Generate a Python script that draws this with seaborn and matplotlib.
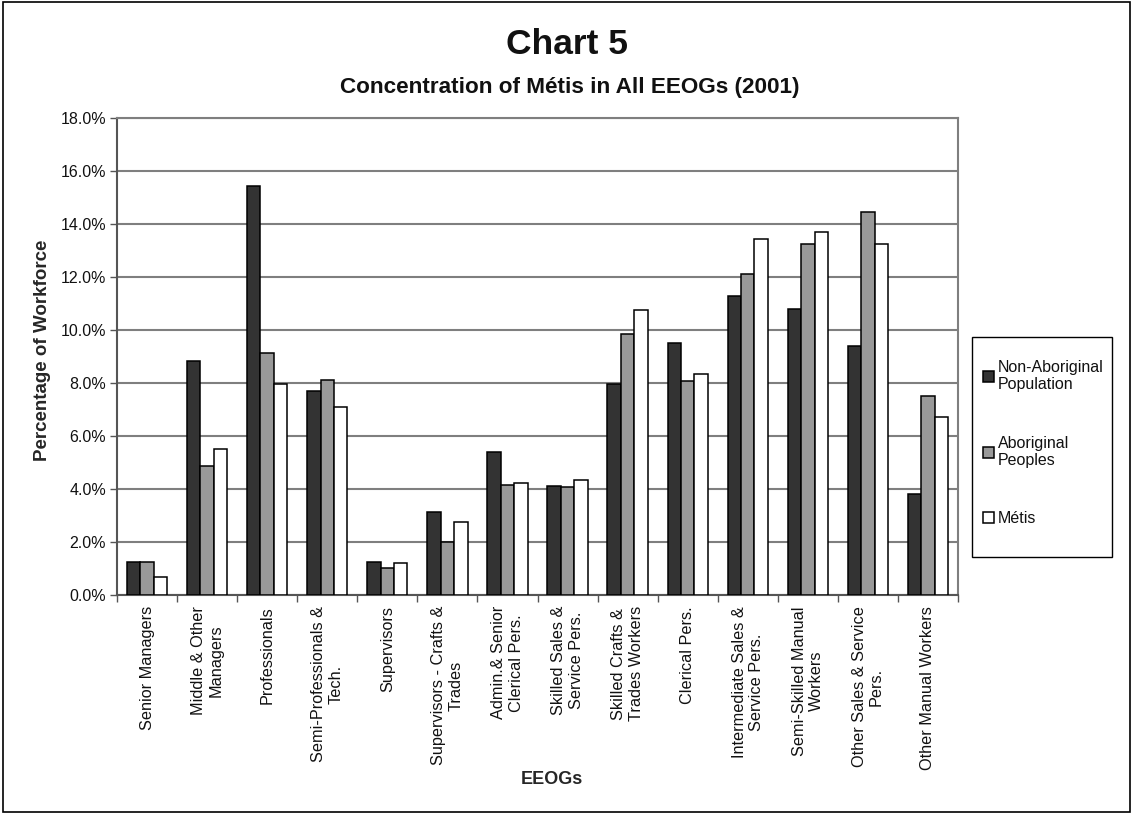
import matplotlib
matplotlib.use("Agg")
import matplotlib.pyplot as plt
import seaborn as sns
import pandas as pd
from matplotlib.ticker import FixedLocator, FuncFormatter, MultipleLocator
from matplotlib.patches import Rectangle

categories = [
    "Senior Managers",
    "Middle & Other\nManagers",
    "Professionals",
    "Semi-Professionals &\nTech.",
    "Supervisors",
    "Supervisors - Crafts &\nTrades",
    "Admin.& Senior\nClerical Pers.",
    "Skilled Sales &\nService Pers.",
    "Skilled Crafts &\nTrades Workers",
    "Clerical Pers.",
    "Intermediate Sales &\nService Pers.",
    "Semi-Skilled Manual\nWorkers",
    "Other Sales & Service\nPers.",
    "Other Manual Workers",
]
series_names = ["Non-Aboriginal\nPopulation", "Aboriginal\nPeoples", "Métis"]
non_aboriginal = [1.26, 8.84, 15.42, 7.71, 1.26, 3.13, 5.41, 4.11, 7.95, 9.50, 11.28, 10.78, 9.41, 3.81]
aboriginal = [1.24, 4.88, 9.14, 8.13, 1.03, 2.00, 4.15, 4.09, 9.85, 8.07, 12.11, 13.23, 14.47, 7.50]
metis = [0.69, 5.52, 7.95, 7.08, 1.20, 2.74, 4.21, 4.35, 10.75, 8.34, 13.44, 13.71, 13.24, 6.72]

df = pd.DataFrame({
    "EEOG": categories * 3,
    "group": [series_names[0]] * 14 + [series_names[1]] * 14 + [series_names[2]] * 14,
    "pct": non_aboriginal + aboriginal + metis,
})

sns.set_style("white")
plt.rcParams["font.family"] = ["Liberation Sans", "DejaVu Sans"]
plt.rcParams["text.color"] = "#111111"

W, H = 1133, 814
fig = plt.figure(figsize=(W / 100, H / 100), dpi=100)
ax = fig.add_axes([117 / W, 1 - 595 / H, 841 / W, 477 / H])

palette = ["#333333", "#999999", "#ffffff"]
sns.barplot(data=df, x="EEOG", y="pct", hue="group", palette=palette,
            edgecolor="black", linewidth=1.1, width=0.67, ax=ax, zorder=3)

ax.set_ylim(0, 18)
ax.set_xlim(-0.5, len(categories) - 0.5)
ax.yaxis.set_major_locator(MultipleLocator(2))
ax.yaxis.set_major_formatter(FuncFormatter(lambda v, p: f"{v:.1f}%"))
ax.grid(axis="y", color="#7f7f7f", linewidth=1.5, zorder=0)
ax.set_axisbelow(True)

for side in ["top", "right"]:
    ax.spines[side].set_color("#7f7f7f")
    ax.spines[side].set_linewidth(1.5)
for side in ["left", "bottom"]:
    ax.spines[side].set_color("#555555")
    ax.spines[side].set_linewidth(1.5)

ax.tick_params(axis="y", which="major", direction="out", length=5, width=1,
               color="#555555", labelsize=11.5, labelcolor="#111111", pad=3, left=True)
ax.tick_params(axis="x", which="major", length=0, labelsize=11.7,
               labelcolor="#111111", pad=8)
ax.xaxis.set_minor_locator(FixedLocator([i + 0.5 for i in range(-1, len(categories))]))
ax.tick_params(axis="x", which="minor", direction="out", length=5, width=1,
               color="#555555", bottom=True)
ax.set_xticks(range(len(categories)))
ax.set_xticklabels(categories, rotation=90, ha="center", va="top",
                   multialignment="center")

ax.set_xlabel("EEOGs", fontsize=13, fontweight="bold")
ax.xaxis.label.set_va("center")
ax.xaxis.set_label_coords((552 - 117) / 841, (595 - 779) / 477)
ax.set_ylabel("Percentage of Workforce", fontsize=13.5, fontweight="bold")
ax.yaxis.label.set_va("center")
ax.yaxis.set_label_coords((42 - 117) / 841, (595 - 350) / 477)

fig.text(567 / W, 1 - 44 / H, "Chart 5", ha="center", va="center",
         fontsize=25.5, fontweight="bold")
fig.text(570 / W, 1 - 88 / H, "Concentration of Métis in All EEOGs (2001)",
         ha="center", va="center", fontsize=16.2, fontweight="bold")

handles, labels = ax.get_legend_handles_labels()
if ax.legend_:
    ax.legend_.remove()
fig.patches.append(Rectangle((972 / W, 1 - 557 / H), 140 / W, 220 / H,
                             transform=fig.transFigure, fill=False,
                             edgecolor="black", linewidth=1.0))
leg = fig.legend(handles, labels, loc="upper left",
                 bbox_to_anchor=(983 / W, 1 - 360 / H),
                 frameon=False, fontsize=11.5, handlelength=0.7, handleheight=0.7,
                 handletextpad=0.25, labelspacing=2.7, borderpad=0,
                 borderaxespad=0)

fig.patches.append(Rectangle((0.003, 0.003), 0.994, 0.994, transform=fig.transFigure,
                             fill=False, edgecolor="black", linewidth=1.2))

fig.savefig("out.png", dpi=100, facecolor="white")
